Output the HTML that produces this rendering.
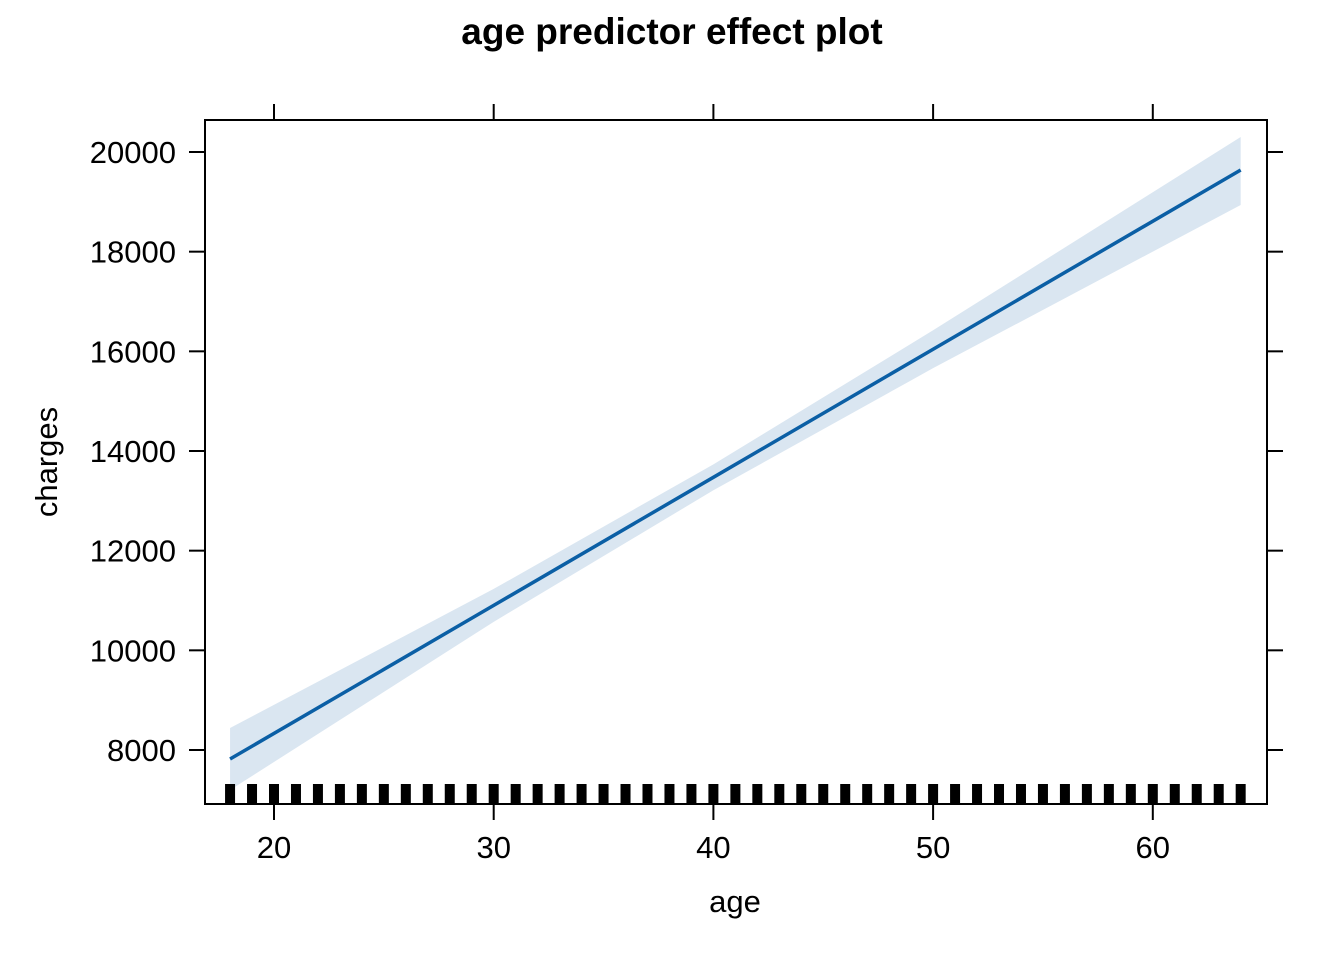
<!DOCTYPE html>
<html><head><meta charset="utf-8"><style>
body{margin:0;background:#fff}
svg{display:block;font-family:"Liberation Sans",Arial,sans-serif}
</style></head><body>
<svg id="chart" width="1344" height="960" viewBox="0 0 1344 960">
<text x="672" y="44" text-anchor="middle" font-size="37" font-weight="bold">age predictor effect plot</text>
<g id="plot"></g>
<rect x="205" y="120" width="1062" height="684" fill="none" stroke="#000" stroke-width="2"/>
<text x="735" y="912" text-anchor="middle" font-size="31">age</text>
<text transform="translate(57,462) rotate(-90)" text-anchor="middle" font-size="31">charges</text>
</svg>
<script>
const ages = [18, 30, 40, 50, 64];
const fitValues = [7819, 10902, 13472, 16042, 19639];
const lowerValues = [7197, 10572, 13212, 15662, 18936];
const upperValues = [8441, 11232, 13732, 16422, 20301];
const xTicks = [20, 30, 40, 50, 60];
const yTicks = [8000, 10000, 12000, 14000, 16000, 18000, 20000];
const rugAges = [];
for (let a = 18; a <= 64; a++) rugAges.push(a);

const NS = 'http://www.w3.org/2000/svg';
const X = v => 274 + (v - 20) * 21.97;
const Y = v => 152 + (20000 - v) * 0.049833;
const g = document.getElementById('plot');
const svg = document.getElementById('chart');
function mk(tag, attrs, parent) {
  const e = document.createElementNS(NS, tag);
  for (const k in attrs) e.setAttribute(k, attrs[k]);
  (parent || g).appendChild(e);
  return e;
}
let d = 'M' + ages.map((a, i) => X(a) + ',' + Y(upperValues[i])).join(' L');
d += ' L' + ages.slice().reverse().map((a, i) => X(a) + ',' + Y(lowerValues[ages.length - 1 - i])).join(' L') + ' Z';
const band = mk('path', {d: d, fill: '#dae6f1'});


const line = mk('polyline', {points: ages.map((a, i) => X(a) + ',' + Y(fitValues[i])).join(' '), fill: 'none', stroke: '#0b5fa5', 'stroke-width': 3.5});


rugAges.forEach(a => {
  const r = mk('rect', {x: X(a) - 5, y: 784, width: 10, height: 20, fill: '#000'});
  
  
});
xTicks.forEach(t => {
  const x = X(t);
  const tb = mk('line', {x1: x, x2: x, y1: 804, y2: 820, stroke: '#000', 'stroke-width': 2}, svg);
  
  
  const tt = mk('line', {x1: x, x2: x, y1: 104, y2: 120, stroke: '#000', 'stroke-width': 2}, svg);
  
  
  const lb = mk('text', {x: x, y: 858, 'text-anchor': 'middle', 'font-size': 31}, svg);
  lb.textContent = t;
  
  
});
yTicks.forEach(t => {
  const y = Y(t);
  const tl = mk('line', {x1: 189, x2: 205, y1: y, y2: y, stroke: '#000', 'stroke-width': 2}, svg);
  
  
  const tr = mk('line', {x1: 1267, x2: 1283, y1: y, y2: y, stroke: '#000', 'stroke-width': 2}, svg);
  
  
  const lb = mk('text', {x: 176, y: y + 11, 'text-anchor': 'end', 'font-size': 31}, svg);
  lb.textContent = t;
  
  
});
</script>
</body></html>
